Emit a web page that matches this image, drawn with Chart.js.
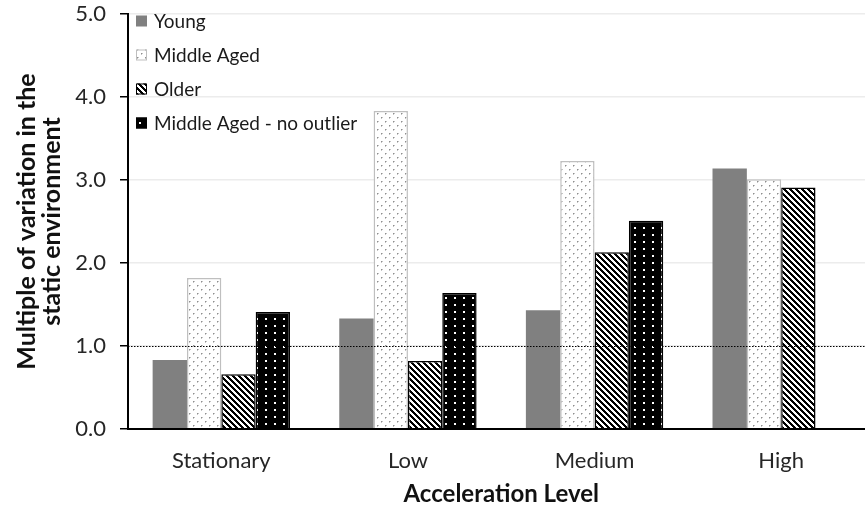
<!DOCTYPE html>
<html><head><meta charset="utf-8">
<script src="https://cdn.jsdelivr.net/npm/chart.js@4.4.1/dist/chart.umd.min.js"></script>
<style>
html,body{margin:0;padding:0;background:#fff;overflow:hidden;width:865px;height:510px}
#wrap{width:878px;height:510px}
</style>
</head><body><div id="wrap"><canvas id="c" width="878" height="510"></canvas></div>
<script>
// ---- data ----
const categories = ['Stationary', 'Low', 'Medium', 'High'];
const seriesNames = ['Young', 'Middle Aged', 'Older', 'Middle Aged - no outlier'];
const young = [0.83, 1.33, 1.43, 3.14];
const middleAged = [1.82, 3.83, 3.23, 3.01];
const older = [0.66, 0.82, 2.13, 2.91];
const middleNoOutlier = [1.41, 1.64, 2.51, null];
const yTicks = [0, 1, 2, 3, 4, 5];
const referenceLevel = 1.0;
const xTitle = 'Acceleration Level';
const yTitle = ['Multiple of variation in the', 'static environment'];

// ---- patterns ----
const mainCtx = document.getElementById('c').getContext('2d');
function makePattern(w, h, draw) {
  const c = document.createElement('canvas'); c.width = w; c.height = h;
  const x = c.getContext('2d'); draw(x, w, h);
  return mainCtx.createPattern(c, 'repeat');
}
const greyDots = makePattern(8, 8, (x, w, h) => {
  x.fillStyle = '#fff'; x.fillRect(0, 0, w, h);
  x.fillStyle = '#8f8f8f'; x.fillRect(1, 1, 1, 1); x.fillRect(5, 5, 1, 1);
  x.fillStyle = '#c4c4c4'; x.fillRect(2, 1, 1, 1); x.fillRect(6, 5, 1, 1);
  x.fillRect(1, 2, 1, 1); x.fillRect(5, 6, 1, 1);
});
const stripes = makePattern(6, 6, (x, w, h) => {
  for (let i = 0; i < w; i++) for (let j = 0; j < h; j++) {
    x.fillStyle = (((i - j) % 6 + 6) % 6) < 3 ? '#000' : '#fff';
    x.fillRect(i, j, 1, 1);
  }
});
const blackDots = makePattern(9, 7, (x, w, h) => {
  x.fillStyle = '#000'; x.fillRect(0, 0, w, h);
  x.fillStyle = '#fff'; x.fillRect(4, 3, 2, 2);
});

const fills = ['#808080', greyDots, stripes, blackDots];
const borders = ['#808080', '#bfbfbf', '#000', '#000'];
const borderWidths = [0, 1.5, 1.5, 1.5];

// ---- plugins ----
const refLinePlugin = {
  id: 'refLine',
  afterDatasetsDraw(chart) {
    const { ctx, chartArea: a, scales: { y } } = chart;
    const yp = Math.round(y.getPixelForValue(referenceLevel)) + 0.5;
    ctx.save();
    ctx.strokeStyle = '#000'; ctx.lineWidth = 1; ctx.setLineDash([1.5, 1.5]);
    ctx.beginPath(); ctx.moveTo(a.left, yp); ctx.lineTo(a.right, yp); ctx.stroke();
    ctx.setLineDash([]);
    const y0 = y.getPixelForValue(0);
    ctx.lineWidth = 2; ctx.strokeStyle = '#000';
    ctx.beginPath(); ctx.moveTo(a.left - 1, y0); ctx.lineTo(a.right, y0); ctx.stroke();
    ctx.restore();
  }
};
const legendPlugin = {
  id: 'insideLegend',
  afterDraw(chart) {
    const { ctx, chartArea: a } = chart;
    ctx.save();
    ctx.font = '19px Lato';
    ctx.textBaseline = 'middle';
    chart.data.datasets.forEach((ds, i) => {
      const cy = a.top + 7 + i * 34;
      const bx = a.left + 8, box = 11;
      ctx.fillStyle = ds.backgroundColor;
      ctx.fillRect(bx, cy - box / 2, box, box);
      if (ds.borderWidth) {
        ctx.strokeStyle = ds.borderColor; ctx.lineWidth = 1;
        ctx.strokeRect(bx + 0.5, cy - box / 2 + 0.5, box - 1, box - 1);
      }
      ctx.fillStyle = '#1a1a1a';
      ctx.fillText(ds.label, a.left + 26, cy + 1);
    });
    ctx.restore();
  }
};

function build() {
  new Chart(mainCtx, {
    type: 'bar',
    data: {
      labels: categories,
      datasets: [young, middleAged, older, middleNoOutlier].map((d, i) => ({
        label: seriesNames[i], data: d,
        backgroundColor: fills[i], borderColor: borders[i], borderWidth: borderWidths[i]
      }))
    },
    options: {
      responsive: false, animation: false, devicePixelRatio: 1,
      categoryPercentage: 0.736, barPercentage: 1,
      layout: { padding: { top: 14, right: 3.5, left: 0, bottom: 0 } },
      plugins: { legend: { display: false }, tooltip: { enabled: false } },
      scales: {
        x: {
          grid: { display: false, drawTicks: false },
          border: { display: true, color: '#000', width: 2 },
          ticks: { font: { family: 'Lato', size: 22 }, color: '#262626', padding: 19 },
          title: { display: true, text: xTitle, color: '#111',
                   font: { family: 'Lato', size: 24, weight: 'bold' }, padding: { top: 0, bottom: 1 } },
          afterFit(s) { s.height = 81; s.paddingLeft = 0; s.paddingRight = 0; }
        },
        y: {
          min: 0, max: 5,
          afterBuildTicks(s) { s.ticks = yTicks.map(v => ({ value: v })); },
          ticks: { callback: v => Number(v).toFixed(1), font: { family: 'Lato', size: 22 }, color: '#262626', padding: 14 },
          grid: { color: '#ececec', lineWidth: 1.5, tickColor: '#000', tickLength: 8, tickWidth: 1.5 },
          border: { color: '#000', width: 2 },
          title: { display: true, text: yTitle, color: '#111',
                   font: { family: 'Lato', size: 25, weight: 'bold', lineHeight: 1.0 }, padding: { top: 14, bottom: 0 } },
          afterFit(s) { s.width = 128; s.paddingTop = 0; s.paddingBottom = 0; }
        }
      }
    },
    plugins: [refLinePlugin, legendPlugin]
  });
}
Promise.all([document.fonts.load('22px Lato'), document.fonts.load('bold 25px Lato'), document.fonts.load('19px Lato')])
  .then(build, build);
</script>
</body></html>
